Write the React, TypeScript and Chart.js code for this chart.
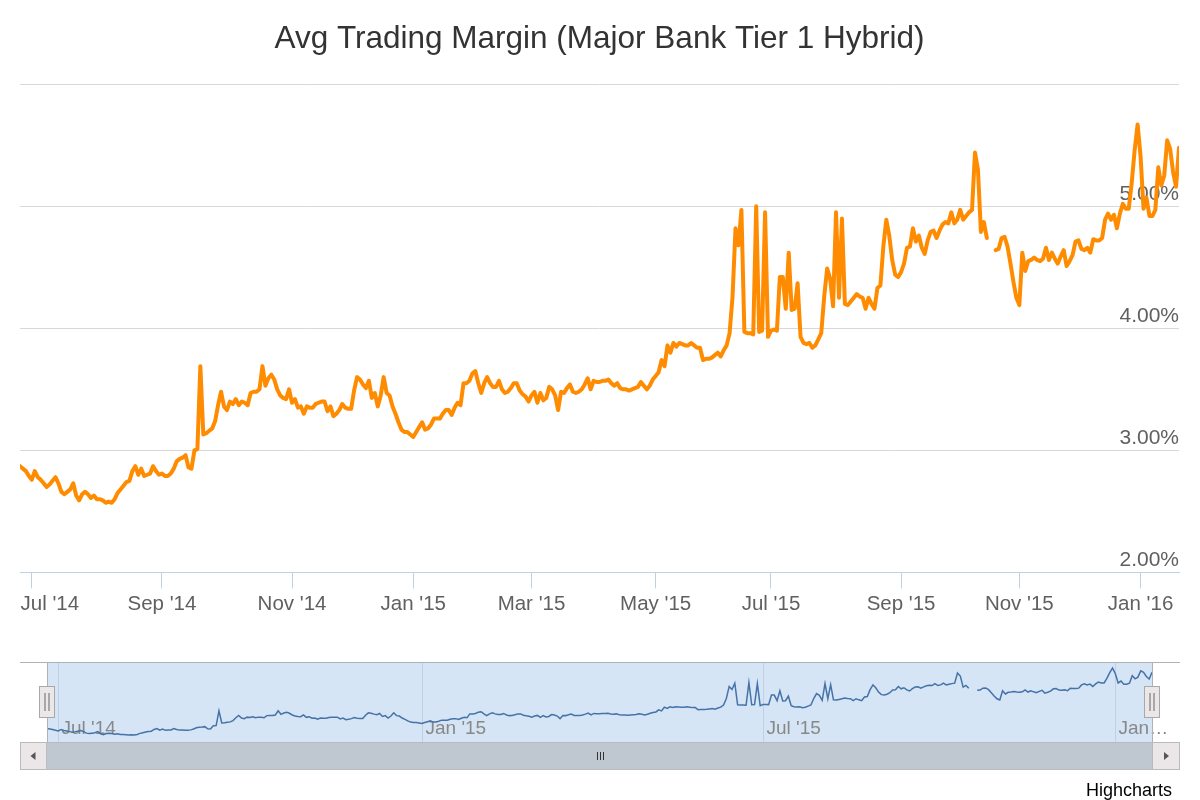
import { useEffect, useRef } from "react";
import { Chart, registerables } from "chart.js";

Chart.register(...registerables);

const TITLE = "Avg Trading Margin (Major Bank Tier 1 Hybrid)";
const CREDIT = "Highcharts";
const FONT = "'Liberation Sans', Arial, Helvetica, sans-serif";

// trading sessions: weekdays between these dates, minus days with no quote
const START_DATE = "2014-06-25";
const END_DATE = "2016-01-21";
const missingDays = [
  "2014-10-06", "2014-12-25", "2014-12-26", "2015-01-01", "2015-01-26",
  "2015-04-03", "2015-04-06", "2015-05-04", "2015-05-25", "2015-06-08",
  "2015-06-29", "2015-09-07", "2015-10-05", "2015-10-12", "2015-10-13",
  "2015-11-26", "2015-12-25", "2015-12-28", "2016-01-01",
];

const monthNames = ["Jan", "Feb", "Mar", "Apr", "May", "Jun", "Jul", "Aug", "Sep", "Oct", "Nov", "Dec"];
const mainTickMonths = [0, 2, 4, 6, 8, 10];
const navTickMonths = [0, 6];
const yTicks = [2, 3, 4, 5, 6];

// average trading margin (%), one value per trading session
const marginValues: (number | null)[] = [
  2.87, 2.85, 2.83, 2.79, 2.76, 2.83, 2.78, 2.76, 2.73, 2.70,
  2.72, 2.75, 2.78, 2.73, 2.66, 2.64, 2.66, 2.68, 2.73, 2.63,
  2.59, 2.64, 2.66, 2.64, 2.61, 2.63, 2.60, 2.60, 2.59, 2.57,
  2.58, 2.57, 2.60, 2.65, 2.68, 2.71, 2.74, 2.75, 2.83, 2.87,
  2.80, 2.85, 2.79, 2.80, 2.81, 2.87, 2.83, 2.80, 2.81, 2.79,
  2.79, 2.81, 2.85, 2.91, 2.93, 2.94, 2.96, 2.86, 2.85, 3.00,
  3.01, 3.69, 3.13, 3.14, 3.16, 3.18, 3.24, 3.37, 3.48, 3.36,
  3.33, 3.40, 3.38, 3.42, 3.37, 3.40, 3.39, 3.37, 3.47, 3.48,
  3.48, 3.50, 3.69, 3.53, 3.59, 3.62, 3.58, 3.50, 3.45, 3.43,
  3.42, 3.50, 3.39, 3.42, 3.35, 3.36, 3.30, 3.36, 3.35, 3.35,
  3.38, 3.39, 3.40, 3.40, 3.32, 3.36, 3.28, 3.30, 3.33, 3.38,
  3.35, 3.34, 3.34, 3.49, 3.60, 3.58, 3.54, 3.51, 3.57, 3.43,
  3.47, 3.36, 3.45, 3.60, 3.47, 3.45, 3.36, 3.30, 3.23, 3.17,
  3.15, 3.15, 3.13, 3.11, 3.15, 3.19, 3.23, 3.17, 3.18, 3.21,
  3.26, 3.26, 3.26, 3.30, 3.33, 3.33, 3.29, 3.35, 3.39, 3.37,
  3.55, 3.55, 3.57, 3.63, 3.65, 3.55, 3.47, 3.55, 3.60, 3.55,
  3.52, 3.52, 3.57, 3.50, 3.47, 3.48, 3.51, 3.55, 3.55, 3.49,
  3.46, 3.44, 3.40, 3.45, 3.48, 3.39, 3.47, 3.41, 3.43, 3.52,
  3.50, 3.45, 3.33, 3.48, 3.47, 3.51, 3.54, 3.48, 3.47, 3.48,
  3.50, 3.54, 3.59, 3.50, 3.57, 3.56, 3.56, 3.57, 3.57, 3.58,
  3.55, 3.53, 3.55, 3.51, 3.50, 3.50, 3.49, 3.50, 3.51, 3.52,
  3.56, 3.53, 3.50, 3.53, 3.58, 3.61, 3.64, 3.74, 3.69, 3.86,
  3.80, 3.88, 3.85, 3.88, 3.87, 3.86, 3.86, 3.88, 3.86, 3.84,
  3.84, 3.74, 3.75, 3.75, 3.76, 3.78, 3.80, 3.77, 3.82, 3.86,
  3.96, 4.26, 4.82, 4.68, 4.97, 3.97, 3.96, 3.96, 3.95, 5.00,
  3.97, 3.98, 4.95, 3.93, 3.98, 3.99, 3.98, 4.42, 4.42, 4.16,
  4.62, 4.15, 4.16, 4.37, 3.93, 3.88, 3.87, 3.88, 3.84, 3.86,
  3.91, 3.96, 4.26, 4.49, 4.41, 4.18, 4.95, 4.25, 4.90, 4.20,
  4.19, 4.22, 4.25, 4.28, 4.26, 4.25, 4.16, 4.25, 4.20, 4.16,
  4.33, 4.35, 4.67, 4.89, 4.76, 4.56, 4.44, 4.42, 4.46, 4.53,
  4.66, 4.67, 4.82, 4.71, 4.76, 4.66, 4.61, 4.72, 4.79, 4.80,
  4.74, 4.80, 4.85, 4.87, 4.86, 4.95, 4.86, 4.89, 4.97, 4.89,
  4.92, 4.95, 4.97, 5.44, 5.30, 4.79, 4.87, 4.74, null, null,
  4.64, 4.65, 4.74, 4.75, 4.67, 4.53, 4.38, 4.25, 4.19, 4.62,
  4.47, 4.55, 4.56, 4.58, 4.56, 4.55, 4.57, 4.66, 4.56, 4.62,
  4.57, 4.53, 4.59, 4.64, 4.51, 4.55, 4.60, 4.71, 4.72, 4.65,
  4.64, 4.66, 4.62, 4.73, 4.72, 4.72, 4.74, 4.89, 4.94, 4.89,
  4.93, 4.82, 4.94, 5.02, 4.98, 4.98, 5.19, 5.46, 5.67, 5.41,
  4.98, 5.07, 4.92, 4.92, 4.97, 5.32, 5.17, 5.25, 5.54, 5.47,
  5.28, 5.16, 5.48,
];

function buildTradingDays(): string[] {
  const out: string[] = [];
  const d = new Date(START_DATE + "T00:00:00Z");
  const end = new Date(END_DATE + "T00:00:00Z").getTime();
  while (d.getTime() <= end) {
    const wd = d.getUTCDay();
    const iso = d.toISOString().slice(0, 10);
    if (wd !== 0 && wd !== 6 && !missingDays.includes(iso)) out.push(iso);
    d.setUTCDate(d.getUTCDate() + 1);
  }
  return out;
}

function monthLabel(iso: string): string {
  const m = parseInt(iso.slice(5, 7), 10) - 1;
  return monthNames[m] + " '" + iso.slice(2, 4);
}

function monthStarts(days: string[], months: number[]): number[] {
  const res: number[] = [];
  for (let i = 1; i < days.length; i++) {
    const m = parseInt(days[i].slice(5, 7), 10) - 1;
    if (days[i].slice(0, 7) !== days[i - 1].slice(0, 7) && months.includes(m)) res.push(i);
  }
  return res;
}

// nudges the x-axis labels: all a little lower, the first one inward (as Highcharts does at the edge)
const shifted = new WeakSet<object>();
const xLabelNudge = {
  id: "xLabelNudge",
  beforeDraw(chart: any) {
    const s = chart.scales.x;
    if (!s || !s.getLabelItems) return;
    const items = s.getLabelItems();
    items.forEach((it: any, k: number) => {
      if (shifted.has(it)) return;
      shifted.add(it);
      const t = it.options && it.options.translation;
      if (!t) return;
      t[1] += 3;
      if (k === 0) t[0] += 18;
    });
  },
};

export default function App() {
  const mainRef = useRef<HTMLCanvasElement>(null);
  const navRef = useRef<HTMLCanvasElement>(null);

  useEffect(() => {
    const days = buildTradingDays();
    const n = Math.min(days.length, marginValues.length);
    const points = [];
    for (let i = 0; i < n; i++) points.push({ x: i, y: marginValues[i] });
    const mainTicks = monthStarts(days.slice(0, n), mainTickMonths);
    const navTicks = monthStarts(days.slice(0, n), navTickMonths);

    const main = new Chart(mainRef.current!, {
      type: "line",
      data: {
        datasets: [
          {
            data: points,
            borderColor: "#FF8C00",
            borderWidth: 4,
            pointRadius: 0,
            tension: 0,
            spanGaps: false,
            borderJoinStyle: "round",
            borderCapStyle: "round",
          },
        ],
      },
      options: {
        responsive: false,
        animation: false,
        layout: { padding: { left: 20, right: 21, top: 0, bottom: 35 } },
        plugins: {
          legend: { display: false },
          tooltip: { enabled: false },
          title: {
            display: true,
            text: TITLE,
            color: "#333333",
            font: { family: FONT, size: 31.5, weight: "normal" },
            padding: { top: 20, bottom: 26.4 },
          },
        },
        scales: {
          x: {
            type: "linear",
            min: 0,
            max: n - 1,
            afterBuildTicks: (s: any) => {
              s.ticks = mainTicks.map((v) => ({ value: v }));
            },
            ticks: {
              autoSkip: false,
              maxRotation: 0,
              color: "#606060",
              padding: 1,
              font: { family: FONT, size: 20.5 },
              callback: (v: any) => (days[v] ? monthLabel(days[v]) : ""),
            },
            grid: {
              display: true,
              drawOnChartArea: false,
              drawTicks: true,
              tickLength: 16,
              tickColor: "#C0D0E0",
              tickWidth: 1,
            },
            border: { display: true, color: "#C0D0E0", width: 1 },
          },
          y: {
            position: "right",
            min: 2,
            max: 6,
            afterBuildTicks: (s: any) => {
              s.ticks = yTicks.map((v) => ({ value: v }));
            },
            ticks: {
              mirror: true,
              padding: 0,
              labelOffset: -12,
              color: "#606060",
              font: { family: FONT, size: 21 },
              callback: (v: any) => (v === yTicks[yTicks.length - 1] ? "" : Number(v).toFixed(2) + "%"),
            },
            grid: { color: "#D8D8D8", drawTicks: false, lineWidth: 1 },
            border: { display: false },
          },
        },
      },
      plugins: [xLabelNudge],
    });

    const navPlugin = {
      id: "navigatorDecor",
      beforeDatasetsDraw(chart: any) {
        const { ctx, chartArea: a, scales } = chart;
        ctx.save();
        ctx.fillStyle = "#D6E5F6";
        ctx.fillRect(a.left, a.top, a.right - a.left, a.bottom - a.top);
        ctx.strokeStyle = "rgba(150,170,195,0.35)";
        ctx.lineWidth = 1;
        ctx.font = "19px " + FONT;
        ctx.fillStyle = "#888888";
        ctx.textAlign = "left";
        ctx.textBaseline = "alphabetic";
        for (const i of navTicks) {
          const px = Math.round(scales.x.getPixelForValue(i)) + 0.5;
          ctx.beginPath();
          ctx.moveTo(px, a.top);
          ctx.lineTo(px, a.bottom);
          ctx.stroke();
          let label = monthLabel(days[i]);
          const limit = 1176;
          if (px + 3 + ctx.measureText(label).width > limit) {
            while (label.length > 1 && px + 3 + ctx.measureText(label.trimEnd() + "…").width > limit) {
              label = label.slice(0, -1);
            }
            label = label.trimEnd() + "…";
          }
          ctx.fillText(label, px + 3, a.bottom - 8);
        }
        ctx.restore();
      },
      afterDatasetsDraw(chart: any) {
        const { ctx, chartArea: a } = chart;
        ctx.save();
        // outline
        ctx.strokeStyle = "#B2B1B6";
        ctx.lineWidth = 1;
        ctx.beginPath();
        ctx.moveTo(20, a.top + 0.5);
        ctx.lineTo(1180, a.top + 0.5);
        ctx.moveTo(a.left + 0.5, a.top);
        ctx.lineTo(a.left + 0.5, a.bottom);
        ctx.moveTo(a.right + 0.5, a.top);
        ctx.lineTo(a.right + 0.5, a.bottom);
        ctx.stroke();

        // scrollbar
        const sTop = a.bottom;
        const sH = 28;
        ctx.fillStyle = "#BFC8D1";
        ctx.fillRect(a.left, sTop, a.right - a.left, sH);
        ctx.strokeStyle = "#BBBBBB";
        ctx.strokeRect(20.5, sTop + 0.5, 1159, sH - 1);
        const buttons = [
          { x0: 20, x1: a.left, dir: -1 },
          { x0: a.right, x1: 1180, dir: 1 },
        ];
        for (const b of buttons) {
          ctx.fillStyle = "#EBE7E8";
          ctx.fillRect(b.x0, sTop, b.x1 - b.x0, sH);
          ctx.strokeStyle = "#BBBBBB";
          ctx.strokeRect(b.x0 + 0.5, sTop + 0.5, b.x1 - b.x0 - 1, sH - 1);
          const cx = (b.x0 + b.x1) / 2;
          const cy = sTop + sH / 2;
          ctx.fillStyle = "#555555";
          ctx.beginPath();
          ctx.moveTo(cx + 3 * b.dir, cy);
          ctx.lineTo(cx - 2 * b.dir, cy - 4);
          ctx.lineTo(cx - 2 * b.dir, cy + 4);
          ctx.closePath();
          ctx.fill();
        }
        const gx = Math.round((a.left + a.right) / 2);
        ctx.strokeStyle = "#333333";
        ctx.beginPath();
        for (const dx of [-3, 0, 3]) {
          ctx.moveTo(gx + dx + 0.5, sTop + 10);
          ctx.lineTo(gx + dx + 0.5, sTop + 18);
        }
        ctx.stroke();

        // handles
        for (const hx of [a.left, a.right]) {
          const x0 = Math.round(hx) - 7.5;
          ctx.fillStyle = "#EBE7E8";
          ctx.fillRect(x0, a.top + 24.5, 15, 31);
          ctx.strokeStyle = "#A8A8A8";
          ctx.strokeRect(x0, a.top + 24.5, 15, 31);
          ctx.strokeStyle = "#666666";
          ctx.beginPath();
          ctx.moveTo(x0 + 5.5, a.top + 31);
          ctx.lineTo(x0 + 5.5, a.top + 49);
          ctx.moveTo(x0 + 9.5, a.top + 31);
          ctx.lineTo(x0 + 9.5, a.top + 49);
          ctx.stroke();
        }

        // credits
        ctx.fillStyle = "#000000";
        ctx.font = "18px " + FONT;
        ctx.textAlign = "right";
        ctx.textBaseline = "alphabetic";
        ctx.fillText(CREDIT, 1172, 146);
        ctx.restore();
      },
    };

    const nav = new Chart(navRef.current!, {
      type: "line",
      data: {
        datasets: [
          {
            data: points,
            borderColor: "#4572A7",
            borderWidth: 1.5,
            pointRadius: 0,
            tension: 0,
            spanGaps: false,
          },
        ],
      },
      options: {
        responsive: false,
        animation: false,
        layout: { padding: { left: 47, right: 48, top: 12, bottom: 58 } },
        plugins: { legend: { display: false }, tooltip: { enabled: false }, title: { display: false } },
        scales: {
          x: { type: "linear", display: false, min: 0, max: n - 1 },
          y: { display: false, min: 2.25, max: 5.95 },
        },
      },
      plugins: [navPlugin],
    });

    return () => {
      main.destroy();
      nav.destroy();
    };
  }, []);

  return (
    <div style={{ position: "absolute", left: 0, top: 0, width: 1200, height: 800, background: "#ffffff" }}>
      <canvas ref={mainRef} width={1200} height={650} style={{ position: "absolute", left: 0, top: 0, width: 1200, height: 650 }} />
      <canvas ref={navRef} width={1200} height={150} style={{ position: "absolute", left: 0, top: 650, width: 1200, height: 150 }} />
    </div>
  );
}
